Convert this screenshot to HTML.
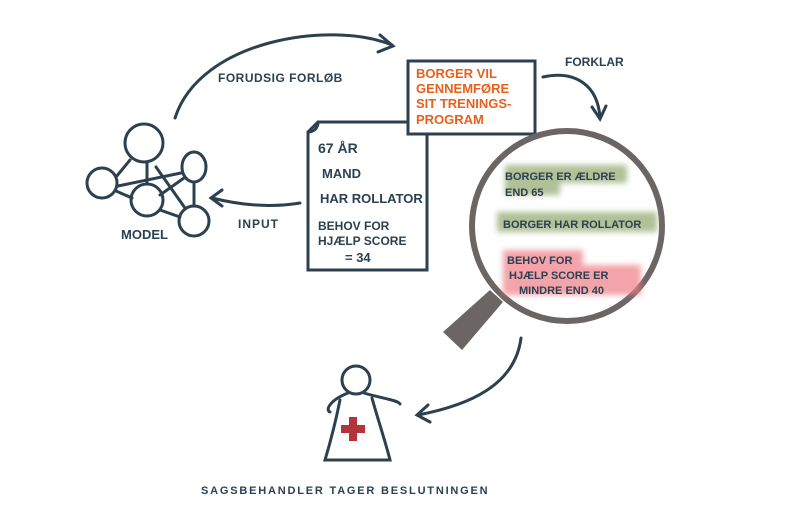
<!DOCTYPE html>
<html><head><meta charset="utf-8"><style>
html,body{margin:0;padding:0;background:#fff;}
svg text{font-family:"Liberation Sans",sans-serif;font-weight:bold;}
</style></head><body>
<svg width="800" height="526" viewBox="0 0 800 526" xmlns="http://www.w3.org/2000/svg">
<defs>
<filter id="blur"><feGaussianBlur stdDeviation="3"/></filter>
</defs>
<g fill="none" stroke="#2c4050" stroke-width="3" stroke-linecap="round">
<path d="M175 118 C200 40 330 20 392 45"/>
<path d="M380 35 L393 46 L378 52"/>
<path d="M300 203 C270 208 240 205 212 198"/>
<path d="M222 190 L211 198 L222 206"/>
<path d="M543 77 C575 70 598 85 600 118"/>
<path d="M592 107 L600 119 L606 106"/>
<path d="M521 338 C515 385 470 405 418 415"/>
<path d="M428 405 L417 415 L430 422"/>
<circle cx="144" cy="143" r="19"/>
<circle cx="102" cy="183" r="15"/>
<circle cx="147" cy="200" r="16"/>
<ellipse cx="194" cy="167" rx="12" ry="15"/>
<circle cx="194" cy="221" r="15"/>
<path d="M116 177 L130 160 M118 186 L181 173 M147 162 L147 184 M156 167 L185 208 M160 195 L184 178 M116 191 L132 198 M160 210 L180 217 M194 182 L194 206"/>
<path d="M318 122 L427 122 L427 270 L308 270 L308 132 Z"/>
<path d="M308 132 C314 132 318 128 318 122"/>
<rect x="408" y="61" width="127" height="73" fill="#fff"/>
<circle cx="356" cy="380" r="14"/>
<path d="M348 393 C330 400 325 410 330 412 M364 393 C380 398 398 400 400 404 M340 400 C335 425 328 450 325 460 L390 460 C385 440 378 420 372 398"/>
</g>
<path d="M443 332 L462 350 L503 302 L490 290 Z" fill="#6b6663"/>
<circle cx="567" cy="226" r="95" fill="#fff" stroke="#6b6663" stroke-width="6"/>
<g filter="url(#blur)" opacity="0.7">
<rect x="505" y="165" width="122" height="18" fill="#8fa66c"/>
<rect x="505" y="180" width="55" height="15" fill="#8fa66c"/>
<rect x="497" y="212" width="160" height="20" fill="#8fa66c"/>
<rect x="503" y="250" width="80" height="20" fill="#ef7d85"/>
<rect x="503" y="265" width="138" height="30" fill="#ef7d85"/>
</g>
<path d="M349 417 h8 v8 h8 v8 h-8 v8 h-8 v-8 h-8 v-8 h8 z" fill="#b3343a"/>
<g fill="#2c4050">
<text x="218" y="82" font-size="12" letter-spacing="0.5">FORUDSIG FORLØB</text>
<text x="565" y="66" font-size="12">FORKLAR</text>
<text x="121" y="239" font-size="13">MODEL</text>
<text x="238" y="228" font-size="12" letter-spacing="1">INPUT</text>
<text x="318" y="153" font-size="14">67 ÅR</text>
<text x="322" y="178" font-size="13">MAND</text>
<text x="320" y="203" font-size="13">HAR ROLLATOR</text>
<text x="318" y="230" font-size="12">BEHOV FOR</text>
<text x="318" y="245" font-size="12">HJÆLP SCORE</text>
<text x="345" y="262" font-size="13">= 34</text>
<text x="505" y="180" font-size="11">BORGER ER ÆLDRE</text>
<text x="505" y="196" font-size="11">END 65</text>
<text x="503" y="228" font-size="11">BORGER HAR ROLLATOR</text>
<text x="507" y="264" font-size="11">BEHOV FOR</text>
<text x="509" y="279" font-size="11">HJÆLP SCORE ER</text>
<text x="519" y="294" font-size="11">MINDRE END 40</text>
<text x="201" y="494" font-size="11" letter-spacing="1.8">SAGSBEHANDLER TAGER BESLUTNINGEN</text>
</g>
<g fill="#e8601c" font-size="13">
<text x="416" y="78">BORGER VIL</text>
<text x="416" y="93">GENNEMFØRE</text>
<text x="416" y="108">SIT TRENINGS-</text>
<text x="416" y="124">PROGRAM</text>
</g>
</svg>
</body></html>
